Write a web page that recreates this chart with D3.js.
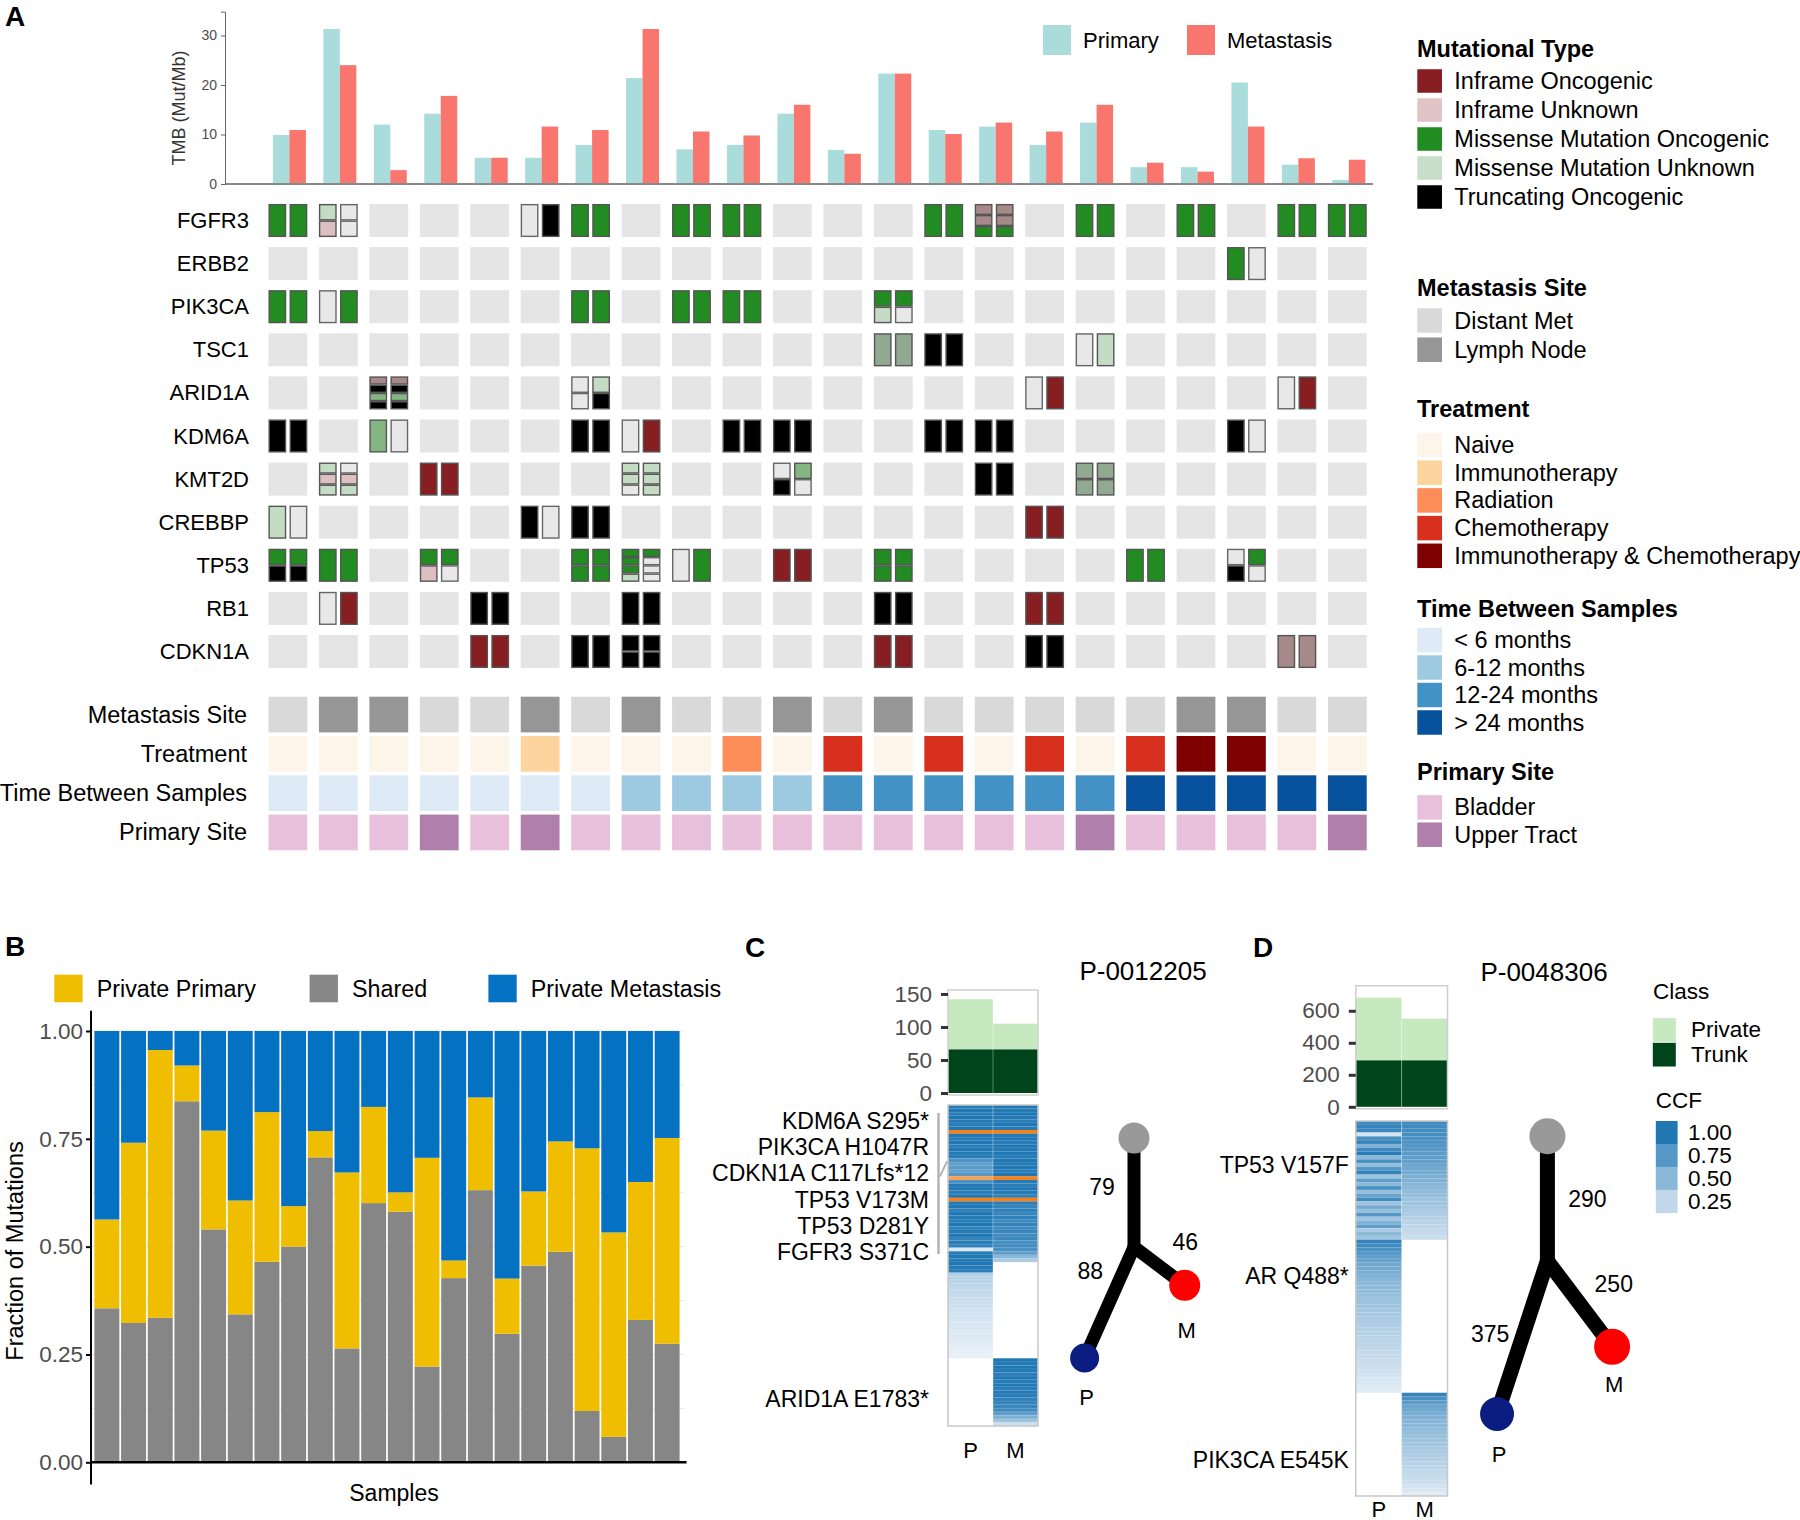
<!DOCTYPE html>
<html>
<head>
<meta charset="utf-8">
<script src="https://cdn.jsdelivr.net/npm/d3@7"></script>
<style>
  body { margin: 0; background: #fff; }
  svg text { font-family: "Liberation Sans", Arial, Helvetica, sans-serif; }
</style>
</head>
<body>
<script>
// ---------------- data ----------------
const samples = ["S01","S02","S03","S04","S05","S06","S07","S08","S09","S10","S11",
                 "S12","S13","S14","S15","S16","S17","S18","S19","S20","S21","S22"];

const tmbPrimary    = [9.9, 31.3, 12.0, 14.2, 5.3, 5.3, 7.9, 21.4, 7.0, 7.9, 14.2, 6.9, 22.3, 10.9, 11.6, 7.9, 12.4, 3.4, 3.4, 20.5, 3.9, 0.8];
const tmbMetastasis = [10.9, 24.0, 2.8, 17.8, 5.3, 11.6, 10.9, 31.3, 10.6, 9.8, 16.0, 6.1, 22.3, 10.1, 12.4, 10.6, 16.0, 4.3, 2.5, 11.6, 5.2, 4.9];

const genes = ["FGFR3","ERBB2","PIK3CA","TSC1","ARID1A","KDM6A","KMT2D","CREBBP","TP53","RB1","CDKN1A"];

// [gene, sample number, primary segments, metastasis segments]
// IO inframe onc, IU inframe unk, MO missense onc, MU missense unk, TO truncating, N not mutated, *d = muted shade
const mutations = [
  ["FGFR3", 1, ["MO"], ["MO"]], ["FGFR3", 2, ["MU","IU"], ["N","N"]], ["FGFR3", 6, ["N"], ["TO"]],
  ["FGFR3", 7, ["MO"], ["MO"]], ["FGFR3", 9, ["MO"], ["MO"]], ["FGFR3", 10, ["MO"], ["MO"]],
  ["FGFR3", 14, ["MO"], ["MO"]], ["FGFR3", 15, ["IUd","IUd","MO"], ["IUd","IUd","MO"]],
  ["FGFR3", 17, ["MO"], ["MO"]], ["FGFR3", 19, ["MO"], ["MO"]], ["FGFR3", 21, ["MO"], ["MO"]], ["FGFR3", 22, ["MO"], ["MO"]],
  ["ERBB2", 20, ["MO"], ["N"]],
  ["PIK3CA", 1, ["MO"], ["MO"]], ["PIK3CA", 2, ["N"], ["MO"]], ["PIK3CA", 7, ["MO"], ["MO"]],
  ["PIK3CA", 9, ["MO"], ["MO"]], ["PIK3CA", 10, ["MO"], ["MO"]], ["PIK3CA", 13, ["MO","MU"], ["MO","N"]],
  ["TSC1", 13, ["MUd"], ["MUd"]], ["TSC1", 14, ["TO"], ["TO"]], ["TSC1", 17, ["N"], ["MU"]],
  ["ARID1A", 3, ["IUd","TO","MOd","TO"], ["IUd","TO","MOd","TO"]], ["ARID1A", 7, ["N","N"], ["MU","TO"]],
  ["ARID1A", 16, ["N"], ["IO"]], ["ARID1A", 21, ["N"], ["IO"]],
  ["KDM6A", 1, ["TO"], ["TO"]], ["KDM6A", 3, ["MOd"], ["N"]], ["KDM6A", 7, ["TO"], ["TO"]],
  ["KDM6A", 8, ["N"], ["IO"]], ["KDM6A", 10, ["TO"], ["TO"]], ["KDM6A", 11, ["TO"], ["TO"]],
  ["KDM6A", 14, ["TO"], ["TO"]], ["KDM6A", 15, ["TO"], ["TO"]], ["KDM6A", 20, ["TO"], ["N"]],
  ["KMT2D", 2, ["MU","IU","MU"], ["N","IU","MU"]], ["KMT2D", 4, ["IO"], ["IO"]],
  ["KMT2D", 8, ["MU","MU","N"], ["MU","MU","MU"]], ["KMT2D", 11, ["N","TO"], ["MOd","N"]],
  ["KMT2D", 15, ["TO"], ["TO"]], ["KMT2D", 17, ["MUd","MUd"], ["MUd","MUd"]],
  ["CREBBP", 1, ["MU"], ["N"]], ["CREBBP", 6, ["TO"], ["N"]], ["CREBBP", 7, ["TO"], ["TO"]], ["CREBBP", 16, ["IO"], ["IO"]],
  ["TP53", 1, ["MO","TO"], ["MO","TO"]], ["TP53", 2, ["MO"], ["MO"]], ["TP53", 4, ["MO","IU"], ["MO","N"]],
  ["TP53", 7, ["MO","MO"], ["MO","MO"]], ["TP53", 8, ["MO","MO","MO","MU"], ["MO","N","N","N"]],
  ["TP53", 9, ["N"], ["MO"]], ["TP53", 11, ["IO"], ["IO"]], ["TP53", 13, ["MO","MO"], ["MO","MO"]],
  ["TP53", 18, ["MO"], ["MO"]], ["TP53", 20, ["N","TO"], ["MO","N"]],
  ["RB1", 2, ["N"], ["IO"]], ["RB1", 5, ["TO"], ["TO"]], ["RB1", 8, ["TO"], ["TO"]],
  ["RB1", 13, ["TO"], ["TO"]], ["RB1", 16, ["IO"], ["IO"]],
  ["CDKN1A", 5, ["IO"], ["IO"]], ["CDKN1A", 7, ["TO"], ["TO"]], ["CDKN1A", 8, ["TO","TO"], ["TO","TO"]],
  ["CDKN1A", 13, ["IO"], ["IO"]], ["CDKN1A", 16, ["TO"], ["TO"]], ["CDKN1A", 21, ["IUd"], ["IUd"]]
];

const metSite = ["Distant Met","Lymph Node","Lymph Node","Distant Met","Distant Met","Lymph Node","Distant Met","Lymph Node",
  "Distant Met","Distant Met","Lymph Node","Distant Met","Lymph Node","Distant Met","Distant Met","Distant Met","Distant Met",
  "Distant Met","Lymph Node","Lymph Node","Distant Met","Distant Met"];
const treatment = ["Naive","Naive","Naive","Naive","Naive","Immunotherapy","Naive","Naive","Naive","Radiation","Naive",
  "Chemotherapy","Naive","Chemotherapy","Naive","Chemotherapy","Naive","Chemotherapy",
  "Immunotherapy & Chemotherapy","Immunotherapy & Chemotherapy","Naive","Naive"];
const timeBetween = ["< 6 months","< 6 months","< 6 months","< 6 months","< 6 months","< 6 months","< 6 months",
  "6-12 months","6-12 months","6-12 months","6-12 months",
  "12-24 months","12-24 months","12-24 months","12-24 months","12-24 months","12-24 months",
  "> 24 months","> 24 months","> 24 months","> 24 months","> 24 months"];
const primarySite = ["Bladder","Bladder","Bladder","Upper Tract","Bladder","Upper Tract","Bladder","Bladder","Bladder","Bladder",
  "Bladder","Bladder","Bladder","Bladder","Bladder","Bladder","Upper Tract","Bladder","Bladder","Bladder","Bladder","Upper Tract"];

// panel B fractions
const fracShared      = [0.357,0.323,0.335,0.837,0.540,0.343,0.465,0.500,0.707,0.264,0.601,0.581,0.222,0.427,0.631,0.298,0.456,0.488,0.119,0.059,0.330,0.275];
const fracPrivPrimary = [0.206,0.418,0.621,0.083,0.229,0.264,0.347,0.094,0.061,0.408,0.223,0.045,0.484,0.041,0.215,0.128,0.172,0.256,0.609,0.474,0.320,0.477];
const fracPrivMet     = [0.437,0.259,0.044,0.080,0.231,0.393,0.188,0.406,0.232,0.328,0.176,0.374,0.294,0.532,0.154,0.574,0.372,0.256,0.272,0.467,0.350,0.248];

// panel C : P-0012205
const countsC = {trunk: 66, P: 142, M: 105};
const treeC = {trunk: 79, P: 88, M: 46};
const sharedP_C = [0.97,1,0.95,1,0.98,0.96,1, 1, 1,0.97,1,0.95,1,0.98,0.96, 0.78,0.7,0.72,0.68,0.75,0.62,0.8,
  0.98,1,0.95,1,1,0.97,1,0.94,1,0.98,0.96,1,0.93,0.97,1,0.9,0.95,0.92, 0.12, 0.95,1,0.97];
const sharedM_C = [1,0.97,1,0.98,0.95,1,0.97, 1, 0.98,1,0.96,1,0.97,1,0.95, 1,0.98,1,0.96,1,1,0.97,
  0.95,1,0.97,0.93,1,0.95,0.9,0.93,0.88,0.92,0.86,0.9,0.85,0.88,0.84,0.87,0.82,0.85, 0.8, 0.7,0.5,0.35];
const privP_C = [1,0.98,0.95, 0.32,0.3,0.28,0.27,0.25,0.24,0.22,0.21,0.2,0.19,0.18,0.17,0.16,0.15,0.14,0.13,0.12,0.12,0.11,0.1,0.09,0.08,0.07,0.06];
const privM_C = [1,0.98,1,0.97,0.95,1,0.96,0.98,0.94,0.97,0.95,0.92,0.9,0.88,0.85,0.7,0.55,0.4,0.2];
const highlightC = [7, 20, 26];
const labelsC = ["KDM6A S295*","PIK3CA H1047R","CDKN1A C117Lfs*12","TP53 V173M","TP53 D281Y","FGFR3 S371C"];
const labelsC_private = [{label: "ARID1A E1783*", row: 82}];

// panel D : P-0048306
const countsD = {trunk: 290, P: 682, M: 551};
const treeD = {trunk: 290, P: 375, M: 250};
const sharedP_D = [0.85,0.9,0.88,0.15,0.8,0.9,0.55,0.85,0.95,0.5,0.8,0.45,0.75,0.9,0.4,0.7,0.5,0.8,0.45,0.65,0.85,0.4,0.6,0.45,0.75,0.4,0.55,0.7,0.35,0.5,0.4];
const sharedM_D = [0.85,0.85,0.83,0.82,0.8,0.78,0.76,0.74,0.72,0.7,0.68,0.65,0.62,0.6,0.58,0.55,0.52,0.5,0.47,0.45,0.42,0.4,0.38,0.35,0.33,0.3,0.28,0.26,0.24,0.22,0.2];
const privP_D = [0.9,0.85,0.8,0.75,0.7,0.66,0.62,0.6,0.57,0.55,0.53,0.5,0.48,0.46,0.45,0.43,0.42,0.4,0.38,0.37,
  0.36,0.34,0.33,0.32,0.3,0.29,0.28,0.27,0.25,0.24,0.23,0.22,0.2,0.19,0.18,0.16,0.15,0.13,0.11,0.09];
const privM_D = [0.9,0.8,0.72,0.66,0.62,0.58,0.55,0.52,0.5,0.47,0.45,0.43,0.41,0.39,0.37,0.35,0.33,0.31,0.29,0.27,0.25,0.23,0.21,0.19,0.16,0.13,0.1];
const labelsD = [{label: "TP53 V157F", row: 11}, {label: "AR Q488*", row: 40}, {label: "PIK3CA E545K", row: 88}];

const ccfBreaks = [1.00, 0.75, 0.50, 0.25];

// ---------------- colours ----------------
const mutColor = {IO: "#861e22", IU: "#dcbfc1", MO: "#228b22", MU: "#c4dbc4", TO: "#000000",
                  IUd: "#a8898a", MUd: "#90a990", MOd: "#84b684", N: "#e8e8e8"};
const metColor = {"Distant Met": "#d9d9d9", "Lymph Node": "#969696"};
const treatColor = {"Naive": "#fdf5e9", "Immunotherapy": "#fdd49e", "Radiation": "#fc8d59",
                    "Chemotherapy": "#d7301f", "Immunotherapy & Chemotherapy": "#7f0000"};
const timeColor = {"< 6 months": "#deebf7", "6-12 months": "#9ecae1", "12-24 months": "#4292c6", "> 24 months": "#08519c"};
const siteColor = {"Bladder": "#e8c0dc", "Upper Tract": "#b07fab"};
const fracColor = {shared: "#868686", privPrimary: "#f0be00", privMet: "#0571c2"};
const classColor = {Private: "#c7e9c0", Trunk: "#00441b"};
const ccfColor = d3.scaleLinear().domain([0, 1]).range(["#f5f8fc", "#1f77b4"]);
const orange = d3.interpolateRgb("#ffffff", "#ff7f0e");

// ---------------- svg ----------------
const svg = d3.select("body").append("svg").attr("width", 1800).attr("height", 1520);

const letter = (t, x, y) => svg.append("text").attr("x", x).attr("y", y)
  .attr("font-size", 28).attr("font-weight", "bold").text(t);
letter("A", 5, 26); letter("B", 5, 956); letter("C", 745, 957); letter("D", 1253, 957);

// ---------------- panel A: TMB bars ----------------
const xS = d3.scaleBand().domain(samples).range([268.5, 1366.7]).paddingInner(0.231);
const yT = d3.scaleLinear().domain([0, 34.8]).range([184, 11.7]);
const gT = svg.append("g");
const barW = 16.5, off = 1.5;

gT.append("g").selectAll("rect").data(samples).join("rect")
  .attr("x", d => xS(d) + xS.bandwidth() / 2 + off - barW)
  .attr("y", (d, i) => yT(tmbPrimary[i]))
  .attr("width", barW)
  .attr("height", (d, i) => yT(0) - yT(tmbPrimary[i]))
  .attr("fill", "#abdcdc");
gT.append("g").selectAll("rect").data(samples).join("rect")
  .attr("x", d => xS(d) + xS.bandwidth() / 2 + off)
  .attr("y", (d, i) => yT(tmbMetastasis[i]))
  .attr("width", barW)
  .attr("height", (d, i) => yT(0) - yT(tmbMetastasis[i]))
  .attr("fill", "#f8766d");

gT.append("line").attr("x1", 225).attr("x2", 1373).attr("y1", yT(0)).attr("y2", yT(0))
  .attr("stroke", "#8a8a8a").attr("stroke-width", 2);
const axT = gT.append("g").attr("transform", "translate(225,0)")
  .call(d3.axisLeft(yT).tickValues([0, 10, 20, 30]).tickSize(4).tickPadding(4));
axT.select(".domain").attr("stroke", "#666");
axT.selectAll(".tick line").attr("stroke", "#666");
axT.selectAll(".tick text").attr("font-size", 14).attr("fill", "#4d4d4d").attr("font-family", null);
gT.append("text").attr("transform", "translate(179,108) rotate(-90)")
  .attr("text-anchor", "middle").attr("dominant-baseline", "central")
  .attr("font-size", 18).attr("fill", "#333").text("TMB (Mut/Mb)");

const tmbLegend = [{k: "Primary", c: "#abdcdc", x: 1043}, {k: "Metastasis", c: "#f8766d", x: 1187}];
gT.selectAll(".lg").data(tmbLegend).join("rect")
  .attr("x", d => d.x).attr("y", 25).attr("width", 28).attr("height", 30).attr("fill", d => d.c);
gT.selectAll(".lgt").data(tmbLegend).join("text")
  .attr("x", d => d.x + 40).attr("y", 40).attr("dominant-baseline", "central")
  .attr("font-size", 22).text(d => d.k);

// ---------------- panel A: oncoprint ----------------
const yG = d3.scaleBand().domain(genes).range([204, 668]).paddingInner(0.234);
const gO = svg.append("g");
const mutByKey = new Map(mutations.map(d => [d[0] + "|" + d[1], d]));
const subGap = 3.4;

gO.selectAll(".gl").data(genes).join("text")
  .attr("x", 249).attr("y", d => yG(d) + yG.bandwidth() / 2)
  .attr("text-anchor", "end").attr("dominant-baseline", "central")
  .attr("font-size", 22).text(d => d);

const cells = genes.flatMap(g => samples.map((s, i) => ({g, s, m: mutByKey.get(g + "|" + (i + 1))})));
gO.append("g").selectAll("rect").data(cells.filter(d => !d.m)).join("rect")
  .attr("x", d => xS(d.s)).attr("y", d => yG(d.g))
  .attr("width", xS.bandwidth()).attr("height", yG.bandwidth())
  .attr("fill", "#e5e5e5");

const subW = (xS.bandwidth() - subGap) / 2;
const segs = cells.filter(d => d.m).flatMap(d => [d.m[2], d.m[3]].flatMap((list, k) =>
  list.map((code, j) => ({
    x: xS(d.s) + k * (subW + subGap),
    y: yG(d.g) + j * yG.bandwidth() / list.length,
    h: yG.bandwidth() / list.length,
    code
  }))));
gO.append("g").selectAll("rect").data(segs).join("rect")
  .attr("x", d => d.x + 0.65).attr("y", d => d.y + 0.65)
  .attr("width", subW - 1.3).attr("height", d => d.h - 1.3)
  .attr("fill", d => mutColor[d.code])
  .attr("stroke", d => d.code === "N" ? "#666" : "#555")
  .attr("stroke-width", 1.4);

// annotation tracks
const tracks = [
  {name: "Metastasis Site", values: metSite, color: metColor},
  {name: "Treatment", values: treatment, color: treatColor},
  {name: "Time Between Samples", values: timeBetween, color: timeColor},
  {name: "Primary Site", values: primarySite, color: siteColor}
];
const yA = d3.scaleBand().domain(tracks.map(d => d.name)).range([696.7, 850.3]).paddingInner(0.092);
const gA = svg.append("g");
tracks.forEach(t => {
  gA.append("g").selectAll("rect").data(samples).join("rect")
    .attr("x", d => xS(d)).attr("y", yA(t.name))
    .attr("width", xS.bandwidth()).attr("height", yA.bandwidth())
    .attr("fill", (d, i) => t.color[t.values[i]]);
});
gA.selectAll("text").data(tracks).join("text")
  .attr("x", 247).attr("y", d => yA(d.name) + yA.bandwidth() / 2)
  .attr("text-anchor", "end").attr("dominant-baseline", "central")
  .attr("font-size", 23.5).text(d => d.name);

// legends on the right
const legendGroups = [
  {title: "Mutational Type", ty: 49, y0: 81, step: 29, h: 23.5,
   items: [["Inframe Oncogenic", mutColor.IO], ["Inframe Unknown", "#e0c4c6"], ["Missense Mutation Oncogenic", mutColor.MO],
           ["Missense Mutation Unknown", "#c9dec9"], ["Truncating Oncogenic", mutColor.TO]]},
  {title: "Metastasis Site", ty: 288, y0: 320.5, step: 29.2, h: 24.5, items: Object.entries(metColor)},
  {title: "Treatment", ty: 409, y0: 445, step: 27.7, h: 24.5, items: Object.entries(treatColor)},
  {title: "Time Between Samples", ty: 609, y0: 640, step: 27.5, h: 24.5, items: Object.entries(timeColor)},
  {title: "Primary Site", ty: 772, y0: 807.4, step: 27.3, h: 24.5, items: Object.entries(siteColor)}
];
const gL = svg.append("g");
legendGroups.forEach(grp => {
  gL.append("text").attr("x", 1417).attr("y", grp.ty).attr("dominant-baseline", "central")
    .attr("font-size", 23.5).attr("font-weight", "bold").text(grp.title);
  const gi = gL.append("g").selectAll("g").data(grp.items).join("g")
    .attr("transform", (d, i) => `translate(1417.3,${grp.y0 + i * grp.step})`);
  gi.append("rect").attr("x", 0).attr("y", -grp.h / 2).attr("width", 24.7).attr("height", grp.h)
    .attr("fill", d => d[1]);
  gi.append("text").attr("x", 37).attr("y", 0).attr("dominant-baseline", "central")
    .attr("font-size", 23.5).text(d => d[0]);
});

// ---------------- panel B ----------------
const xB = d3.scaleBand().domain(samples).range([94.4, 679.6]).paddingInner(0.065);
const yB = d3.scaleLinear().domain([0, 1]).range([1462.3, 1031]);
const gB = svg.append("g");
const gridB = [0.125, 0.25, 0.375, 0.5, 0.625, 0.75, 0.875, 1];
gB.append("g").selectAll("line").data(gridB).join("line")
  .attr("x1", 91).attr("x2", 684).attr("y1", d => yB(d)).attr("y2", d => yB(d))
  .attr("stroke", "#e6e6e6").attr("stroke-width", 1);

const fracRows = samples.map((s, i) => ({s, shared: fracShared[i], privPrimary: fracPrivPrimary[i], privMet: fracPrivMet[i]}));
const stackB = d3.stack().keys(["shared", "privPrimary", "privMet"])(fracRows);
gB.append("g").selectAll("g").data(stackB).join("g")
  .attr("fill", d => fracColor[d.key])
  .selectAll("rect").data(d => d).join("rect")
  .attr("x", d => xB(d.data.s)).attr("width", xB.bandwidth())
  .attr("y", d => yB(d[1])).attr("height", d => yB(d[0]) - yB(d[1]));

gB.append("line").attr("x1", 91).attr("x2", 91).attr("y1", 1010.7).attr("y2", 1484.5)
  .attr("stroke", "#000").attr("stroke-width", 2);
gB.append("line").attr("x1", 91).attr("x2", 686.6).attr("y1", yB(0)).attr("y2", yB(0))
  .attr("stroke", "#000").attr("stroke-width", 2.5);
const axB = gB.append("g").attr("transform", "translate(91,0)")
  .call(d3.axisLeft(yB).tickValues([0, 0.25, 0.5, 0.75, 1]).tickFormat(d3.format(".2f")).tickSize(5).tickPadding(3));
axB.select(".domain").remove();
axB.selectAll(".tick line").attr("stroke", "#000").attr("stroke-width", 2);
axB.selectAll(".tick text").attr("font-size", 22.5).attr("fill", "#4d4d4d").attr("font-family", null);
gB.append("text").attr("x", 394).attr("y", 1493).attr("text-anchor", "middle")
  .attr("dominant-baseline", "central").attr("font-size", 23).text("Samples");
gB.append("text").attr("transform", "translate(15,1251) rotate(-90)").attr("text-anchor", "middle")
  .attr("dominant-baseline", "central").attr("font-size", 23.5).text("Fraction of Mutations");

const fracLegend = [{k: "Private Primary", c: fracColor.privPrimary, x: 54.3},
                    {k: "Shared", c: fracColor.shared, x: 309.6},
                    {k: "Private Metastasis", c: fracColor.privMet, x: 488.4}];
gB.selectAll(".fl").data(fracLegend).join("rect")
  .attr("x", d => d.x).attr("y", 974.7).attr("width", 28.3).attr("height", 27.6).attr("fill", d => d.c);
gB.selectAll(".flt").data(fracLegend).join("text")
  .attr("x", d => d.x + 42.4).attr("y", 989).attr("dominant-baseline", "central")
  .attr("font-size", 23.3).text(d => d.k);

// ---------------- panels C and D ----------------
function drawCase(cfg) {
  const g = svg.append("g");
  g.append("text").attr("x", cfg.titleX).attr("y", cfg.titleY).attr("text-anchor", "middle")
    .attr("dominant-baseline", "central").attr("font-size", 26).text(cfg.title);

  const xC = d3.scaleBand().domain(["P", "M"]).range(cfg.xRange);
  // count bars
  const yC = d3.scaleLinear().domain(cfg.yDomain).range(cfg.yRange);
  const bars = [{s: "P", total: cfg.counts.P}, {s: "M", total: cfg.counts.M}];
  g.append("g").selectAll("rect").data(bars).join("rect")
    .attr("x", d => xC(d.s)).attr("width", xC.bandwidth())
    .attr("y", d => yC(d.total)).attr("height", d => yC(cfg.counts.trunk) - yC(d.total))
    .attr("fill", classColor.Private);
  g.append("g").selectAll("rect").data(bars).join("rect")
    .attr("x", d => xC(d.s)).attr("width", xC.bandwidth())
    .attr("y", yC(cfg.counts.trunk)).attr("height", yC(0) - yC(cfg.counts.trunk))
    .attr("fill", classColor.Trunk);
  g.append("line").attr("x1", xC("M")).attr("x2", xC("M")).attr("y1", cfg.yRange[1]).attr("y2", cfg.yRange[0])
    .attr("stroke", "#fff").attr("stroke-opacity", 0.35);
  g.append("rect").attr("x", cfg.xRange[0]).attr("y", cfg.yRange[1])
    .attr("width", cfg.xRange[1] - cfg.xRange[0]).attr("height", cfg.yRange[0] - cfg.yRange[1] + 2)
    .attr("fill", "none").attr("stroke", "#cfcfcf").attr("stroke-width", 1.5);
  const ax = g.append("g").attr("transform", `translate(${cfg.xRange[0]},0)`)
    .call(d3.axisLeft(yC).tickValues(cfg.ticks).tickSize(7).tickPadding(9));
  ax.select(".domain").remove();
  ax.selectAll(".tick line").attr("stroke", "#333").attr("stroke-width", 3);
  ax.selectAll(".tick text").attr("font-size", 22.5).attr("fill", "#4d4d4d").attr("font-family", null);

  // CCF heatmap
  const rows = [
    ...cfg.sharedP.map((v, i) => ({P: v, M: cfg.sharedM[i]})),
    ...cfg.privP.map(v => ({P: v, M: null})),
    ...cfg.privM.map(v => ({P: null, M: v}))
  ];
  rows.forEach((r, i) => { r.i = i; r.hl = cfg.highlight.includes(i); });
  const yH = d3.scaleBand().domain(d3.range(rows.length)).range(cfg.hRange);
  const tiles = rows.flatMap(r => ["P", "M"].filter(s => r[s] !== null).map(s => ({i: r.i, s, v: r[s], hl: r.hl})));
  g.append("g").selectAll("rect").data(tiles).join("rect")
    .attr("x", d => xC(d.s)).attr("width", xC.bandwidth())
    .attr("y", d => yH(d.i)).attr("height", yH.bandwidth() + 0.2)
    .attr("fill", d => d.hl ? orange(0.3 + 0.7 * d.v) : ccfColor(d.v))
    .attr("stroke", "#fff").attr("stroke-opacity", d => d.hl ? 0 : 0.18).attr("stroke-width", 0.5);
  g.append("line").attr("x1", xC("M")).attr("x2", xC("M")).attr("y1", cfg.hRange[0]).attr("y2", cfg.hRange[1])
    .attr("stroke", "#fff").attr("stroke-opacity", 0.25);
  g.append("rect").attr("x", cfg.xRange[0]).attr("y", cfg.hRange[0])
    .attr("width", cfg.xRange[1] - cfg.xRange[0]).attr("height", cfg.hRange[1] - cfg.hRange[0])
    .attr("fill", "none").attr("stroke", "#c8c8c8").attr("stroke-width", 1.5);

  g.selectAll(".pm").data(["P", "M"]).join("text")
    .attr("x", d => xC(d) + xC.bandwidth() / 2).attr("y", cfg.pmY)
    .attr("text-anchor", "middle").attr("dominant-baseline", "central").attr("font-size", 22).text(d => d);

  // gene labels
  g.append("g").selectAll("text").data(cfg.rowLabels).join("text")
    .attr("x", cfg.xRange[0] - cfg.labelGap).attr("y", d => yH(d.row) + yH.bandwidth() / 2)
    .attr("text-anchor", "end").attr("dominant-baseline", "central").attr("font-size", 23).text(d => d.label);

  if (cfg.stackLabels) {
    const ySt = d3.scalePoint().domain(cfg.stackLabels).range(cfg.stackRange);
    g.append("g").selectAll("text").data(cfg.stackLabels).join("text")
      .attr("x", cfg.xRange[0] - cfg.labelGap).attr("y", d => ySt(d))
      .attr("text-anchor", "end").attr("dominant-baseline", "central").attr("font-size", 23).text(d => d);
    const bx = cfg.xRange[0] - 9.5;
    g.append("line").attr("x1", bx).attr("x2", bx).attr("y1", cfg.stackRange[0] - 8).attr("y2", cfg.stackRange[1] + 2)
      .attr("stroke", "#b3b3b3").attr("stroke-width", 2.5);
    g.append("line").attr("x1", bx + 1.5).attr("x2", cfg.xRange[0] - 1)
      .attr("y1", yH(cfg.highlight[1])).attr("y2", yH(cfg.highlight[1]) - 15)
      .attr("stroke", "#b3b3b3").attr("stroke-width", 2);
  }

  // tree
  const len = d3.scaleLinear().domain([0, 1]).range([0, cfg.k]);
  const rad = a => a * Math.PI / 180;
  const root = cfg.root;
  const junc = [root[0], root[1] + len(cfg.tree.trunk)];
  const pEnd = [junc[0] - Math.sin(rad(cfg.angP)) * len(cfg.tree.P), junc[1] + Math.cos(rad(cfg.angP)) * len(cfg.tree.P)];
  const mEnd = [junc[0] + Math.sin(rad(cfg.angM)) * len(cfg.tree.M), junc[1] + Math.cos(rad(cfg.angM)) * len(cfg.tree.M)];
  const edges = [
    {a: root, b: junc, n: cfg.tree.trunk, o: cfg.offTrunk},
    {a: junc, b: pEnd, n: cfg.tree.P, o: cfg.offP},
    {a: junc, b: mEnd, n: cfg.tree.M, o: cfg.offM}
  ];
  g.append("g").selectAll("line").data(edges).join("line")
    .attr("x1", d => d.a[0]).attr("y1", d => d.a[1]).attr("x2", d => d.b[0]).attr("y2", d => d.b[1])
    .attr("stroke", "#000").attr("stroke-width", cfg.lw).attr("stroke-linecap", "round");
  g.append("g").selectAll("text").data(edges).join("text")
    .attr("x", d => (d.a[0] + d.b[0]) / 2 + d.o[0]).attr("y", d => (d.a[1] + d.b[1]) / 2 + d.o[1])
    .attr("text-anchor", "middle").attr("dominant-baseline", "central").attr("font-size", 23).text(d => d.n);
  const nodes = [
    {p: root, c: "#999999", r: cfg.r},
    {p: pEnd, c: "#0b1d80", r: cfg.r - 1, lab: "P", dy: cfg.labP},
    {p: mEnd, c: "#ff0000", r: cfg.r, lab: "M", dy: cfg.labM}
  ];
  g.append("g").selectAll("circle").data(nodes).join("circle")
    .attr("cx", d => d.p[0]).attr("cy", d => d.p[1]).attr("r", d => d.r).attr("fill", d => d.c);
  g.append("g").selectAll("text").data(nodes.filter(d => d.lab)).join("text")
    .attr("x", d => d.p[0] + 2).attr("y", d => d.p[1] + d.dy)
    .attr("text-anchor", "middle").attr("dominant-baseline", "central").attr("font-size", 22).text(d => d.lab);
  return g;
}

drawCase({
  title: "P-0012205", titleX: 1143, titleY: 971,
  xRange: [948, 1038], yDomain: [0, 156], yRange: [1093, 990], ticks: [0, 50, 100, 150],
  counts: countsC, sharedP: sharedP_C, sharedM: sharedM_C, privP: privP_C, privM: privM_C,
  highlight: highlightC, hRange: [1105, 1426], pmY: 1450, labelGap: 19,
  rowLabels: labelsC_private, stackLabels: labelsC, stackRange: [1121, 1252],
  tree: treeC, root: [1134, 1138], k: 1.38, angP: 24, angM: 53, lw: 13, r: 15.5,
  offTrunk: [-32, -6], offP: [-19, -31], offM: [26, -24], labP: 40, labM: 45
});

const gD = drawCase({
  title: "P-0048306", titleX: 1544, titleY: 972,
  xRange: [1355.8, 1447.5], yDomain: [0, 756], yRange: [1106.8, 985.8], ticks: [0, 200, 400, 600],
  counts: countsD, sharedP: sharedP_D, sharedM: sharedM_D, privP: privP_D, privM: privM_D,
  highlight: [], hRange: [1121, 1496], pmY: 1509, labelGap: 7,
  rowLabels: labelsD, stackLabels: null,
  tree: treeD, root: [1547.4, 1136.2], k: 0.43, angP: 18.2, angM: 37, lw: 15, r: 18,
  offTrunk: [40, 0], offP: [-32, -3], offM: [34, -20], labP: 40, labM: 38
});

// class + CCF legends (panel D)
const classes = ["Private", "Trunk"];
gD.append("text").attr("x", 1653).attr("y", 991).attr("dominant-baseline", "central")
  .attr("font-size", 22.5).text("Class");
const yCl = d3.scaleBand().domain(classes).range([1017.6, 1067]);
gD.append("g").selectAll("rect").data(classes).join("rect")
  .attr("x", 1652.8).attr("y", d => yCl(d) + 0.5).attr("width", 23).attr("height", yCl.bandwidth() - 1)
  .attr("fill", d => classColor[d]);
gD.append("g").selectAll("text").data(classes).join("text")
  .attr("x", 1691).attr("y", d => yCl(d) + yCl.bandwidth() / 2).attr("dominant-baseline", "central")
  .attr("font-size", 22.5).text(d => d);

gD.append("text").attr("x", 1655.8).attr("y", 1100).attr("dominant-baseline", "central")
  .attr("font-size", 22.5).text("CCF");
const yCcf = d3.scaleBand().domain(ccfBreaks).range([1121, 1212.8]);
gD.append("g").selectAll("rect").data(ccfBreaks).join("rect")
  .attr("x", 1655.8).attr("y", d => yCcf(d)).attr("width", 21.8).attr("height", yCcf.bandwidth() + 0.3)
  .attr("fill", d => ccfColor(d));
gD.append("g").selectAll("text").data(ccfBreaks).join("text")
  .attr("x", 1688).attr("y", d => yCcf(d) + yCcf.bandwidth() / 2).attr("dominant-baseline", "central")
  .attr("font-size", 22.5).text(d => d3.format(".2f")(d));
</script>
</body>
</html>
